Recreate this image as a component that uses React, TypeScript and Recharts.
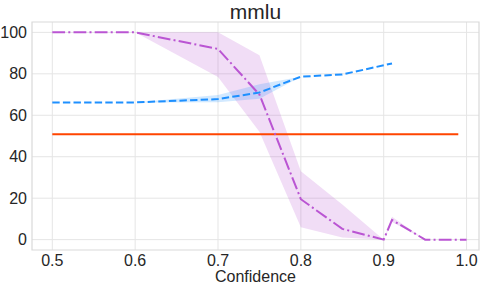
import React from 'react'
import {
  ComposedChart,
  Line,
  Area,
  XAxis,
  YAxis,
  CartesianGrid,
  ReferenceArea,
} from 'recharts'

// values
const xTicks = [0.5, 0.6, 0.7, 0.8, 0.9, 1.0]
const yTicks = [0, 20, 40, 60, 80, 100]

const orangeX = [0.5, 0.99]
const orangeY = [50.9, 50.9]

const blueX = [0.5, 0.6, 0.7, 0.75, 0.8, 0.85, 0.91]
const blueMean = [66.2, 66.2, 67.8, 71, 78.6, 79.7, 85]
const blueLow = [66.2, 66.2, 66.3, 68, 78.6, 79.7, 85]
const blueHigh = [66.2, 66.2, 69.8, 75, 78.6, 79.7, 85]

const purpleX = [0.5, 0.6, 0.7, 0.75, 0.8, 0.85, 0.9, 0.91, 0.95, 1.0]
const purpleMean = [100, 100, 92, 70, 19.5, 5.2, 0, 9.5, 0, 0]
const purpleLow = [100, 100, 78.5, 52, 6, 1, 0, 8.5, 0, 0]
const purpleHigh = [100, 100, 100, 89, 33, 17, 0, 11, 0, 0]

const COLORS = {
  orange: '#FF4500',
  blue: '#1E90FF',
  purple: '#BA55D3',
  grid: '#E5E5E5',
  frame: '#D9D9D9',
  text: '#262626',
}

const FONT = '"Liberation Sans", Arial, sans-serif'

const rows = (xs: number[], mean: number[], low?: number[], high?: number[]) =>
  xs.map((x, i) => ({
    x,
    y: mean[i],
    band: low && high ? [low[i], high[i]] : undefined,
  }))

const orangeData = rows(orangeX, orangeY)
const blueData = rows(blueX, blueMean, blueLow, blueHigh)
const purpleData = rows(purpleX, purpleMean, purpleLow, purpleHigh)

const X_DOMAIN: [number, number] = [0.4755, 1.015]
const Y_DOMAIN: [number, number] = [-5, 105]

export default function App() {
  return (
    <div style={{ position: 'absolute', left: 0, top: 0, width: 488, height: 285, background: '#fff' }}>
      <div
        style={{
          position: 'absolute',
          left: 32,
          width: 447,
          top: 0,
          textAlign: 'center',
          fontFamily: FONT,
          fontSize: 21,
          color: COLORS.text,
          lineHeight: '24px',
        }}
      >
        mmlu
      </div>
      <ComposedChart
        width={488}
        height={285}
        margin={{ top: 22, right: 9, bottom: 0, left: 0 }}
      >
        <CartesianGrid
          stroke={COLORS.grid}
          strokeWidth={1}
          verticalValues={xTicks}
          horizontalValues={yTicks}
        />
        <XAxis
          type="number"
          dataKey="x"
          domain={X_DOMAIN}
          ticks={xTicks}
          allowDataOverflow
          height={35}
          tickLine={false}
          axisLine={false}
          tickSize={0}
          tickMargin={5}
          tickFormatter={(v: number) => v.toFixed(1)}
          tick={{ fill: COLORS.text, fontSize: 16, fontFamily: FONT }}
          label={{
            value: 'Confidence',
            position: 'insideBottom',
            offset: 3,
            fill: COLORS.text,
            fontSize: 16,
            fontFamily: FONT,
          }}
        />
        <YAxis
          type="number"
          domain={Y_DOMAIN}
          ticks={yTicks}
          allowDataOverflow
          width={32}
          tickLine={false}
          axisLine={false}
          tickSize={0}
          tickMargin={5}
          tick={{ fill: COLORS.text, fontSize: 16, fontFamily: FONT }}
        />
        <ReferenceArea
          x1={X_DOMAIN[0]}
          x2={X_DOMAIN[1]}
          y1={Y_DOMAIN[0]}
          y2={Y_DOMAIN[1]}
          fill="none"
          stroke={COLORS.frame}
          strokeWidth={1.2}
        />
        <Area
          data={purpleData}
          dataKey="band"
          type="linear"
          stroke="none"
          fill={COLORS.purple}
          fillOpacity={0.2}
          isAnimationActive={false}
        />
        <Area
          data={blueData}
          dataKey="band"
          type="linear"
          stroke="none"
          fill={COLORS.blue}
          fillOpacity={0.2}
          isAnimationActive={false}
        />
        <Line
          data={orangeData}
          dataKey="y"
          type="linear"
          stroke={COLORS.orange}
          strokeWidth={2}
          dot={false}
          isAnimationActive={false}
        />
        <Line
          data={blueData}
          dataKey="y"
          type="linear"
          stroke={COLORS.blue}
          strokeWidth={2}
          strokeDasharray="7.4 3.2"
          dot={false}
          isAnimationActive={false}
        />
        <Line
          data={purpleData}
          dataKey="y"
          type="linear"
          stroke={COLORS.purple}
          strokeWidth={2}
          strokeDasharray="12.8 3.2 2 3.2"
          dot={false}
          isAnimationActive={false}
        />
      </ComposedChart>
    </div>
  )
}
